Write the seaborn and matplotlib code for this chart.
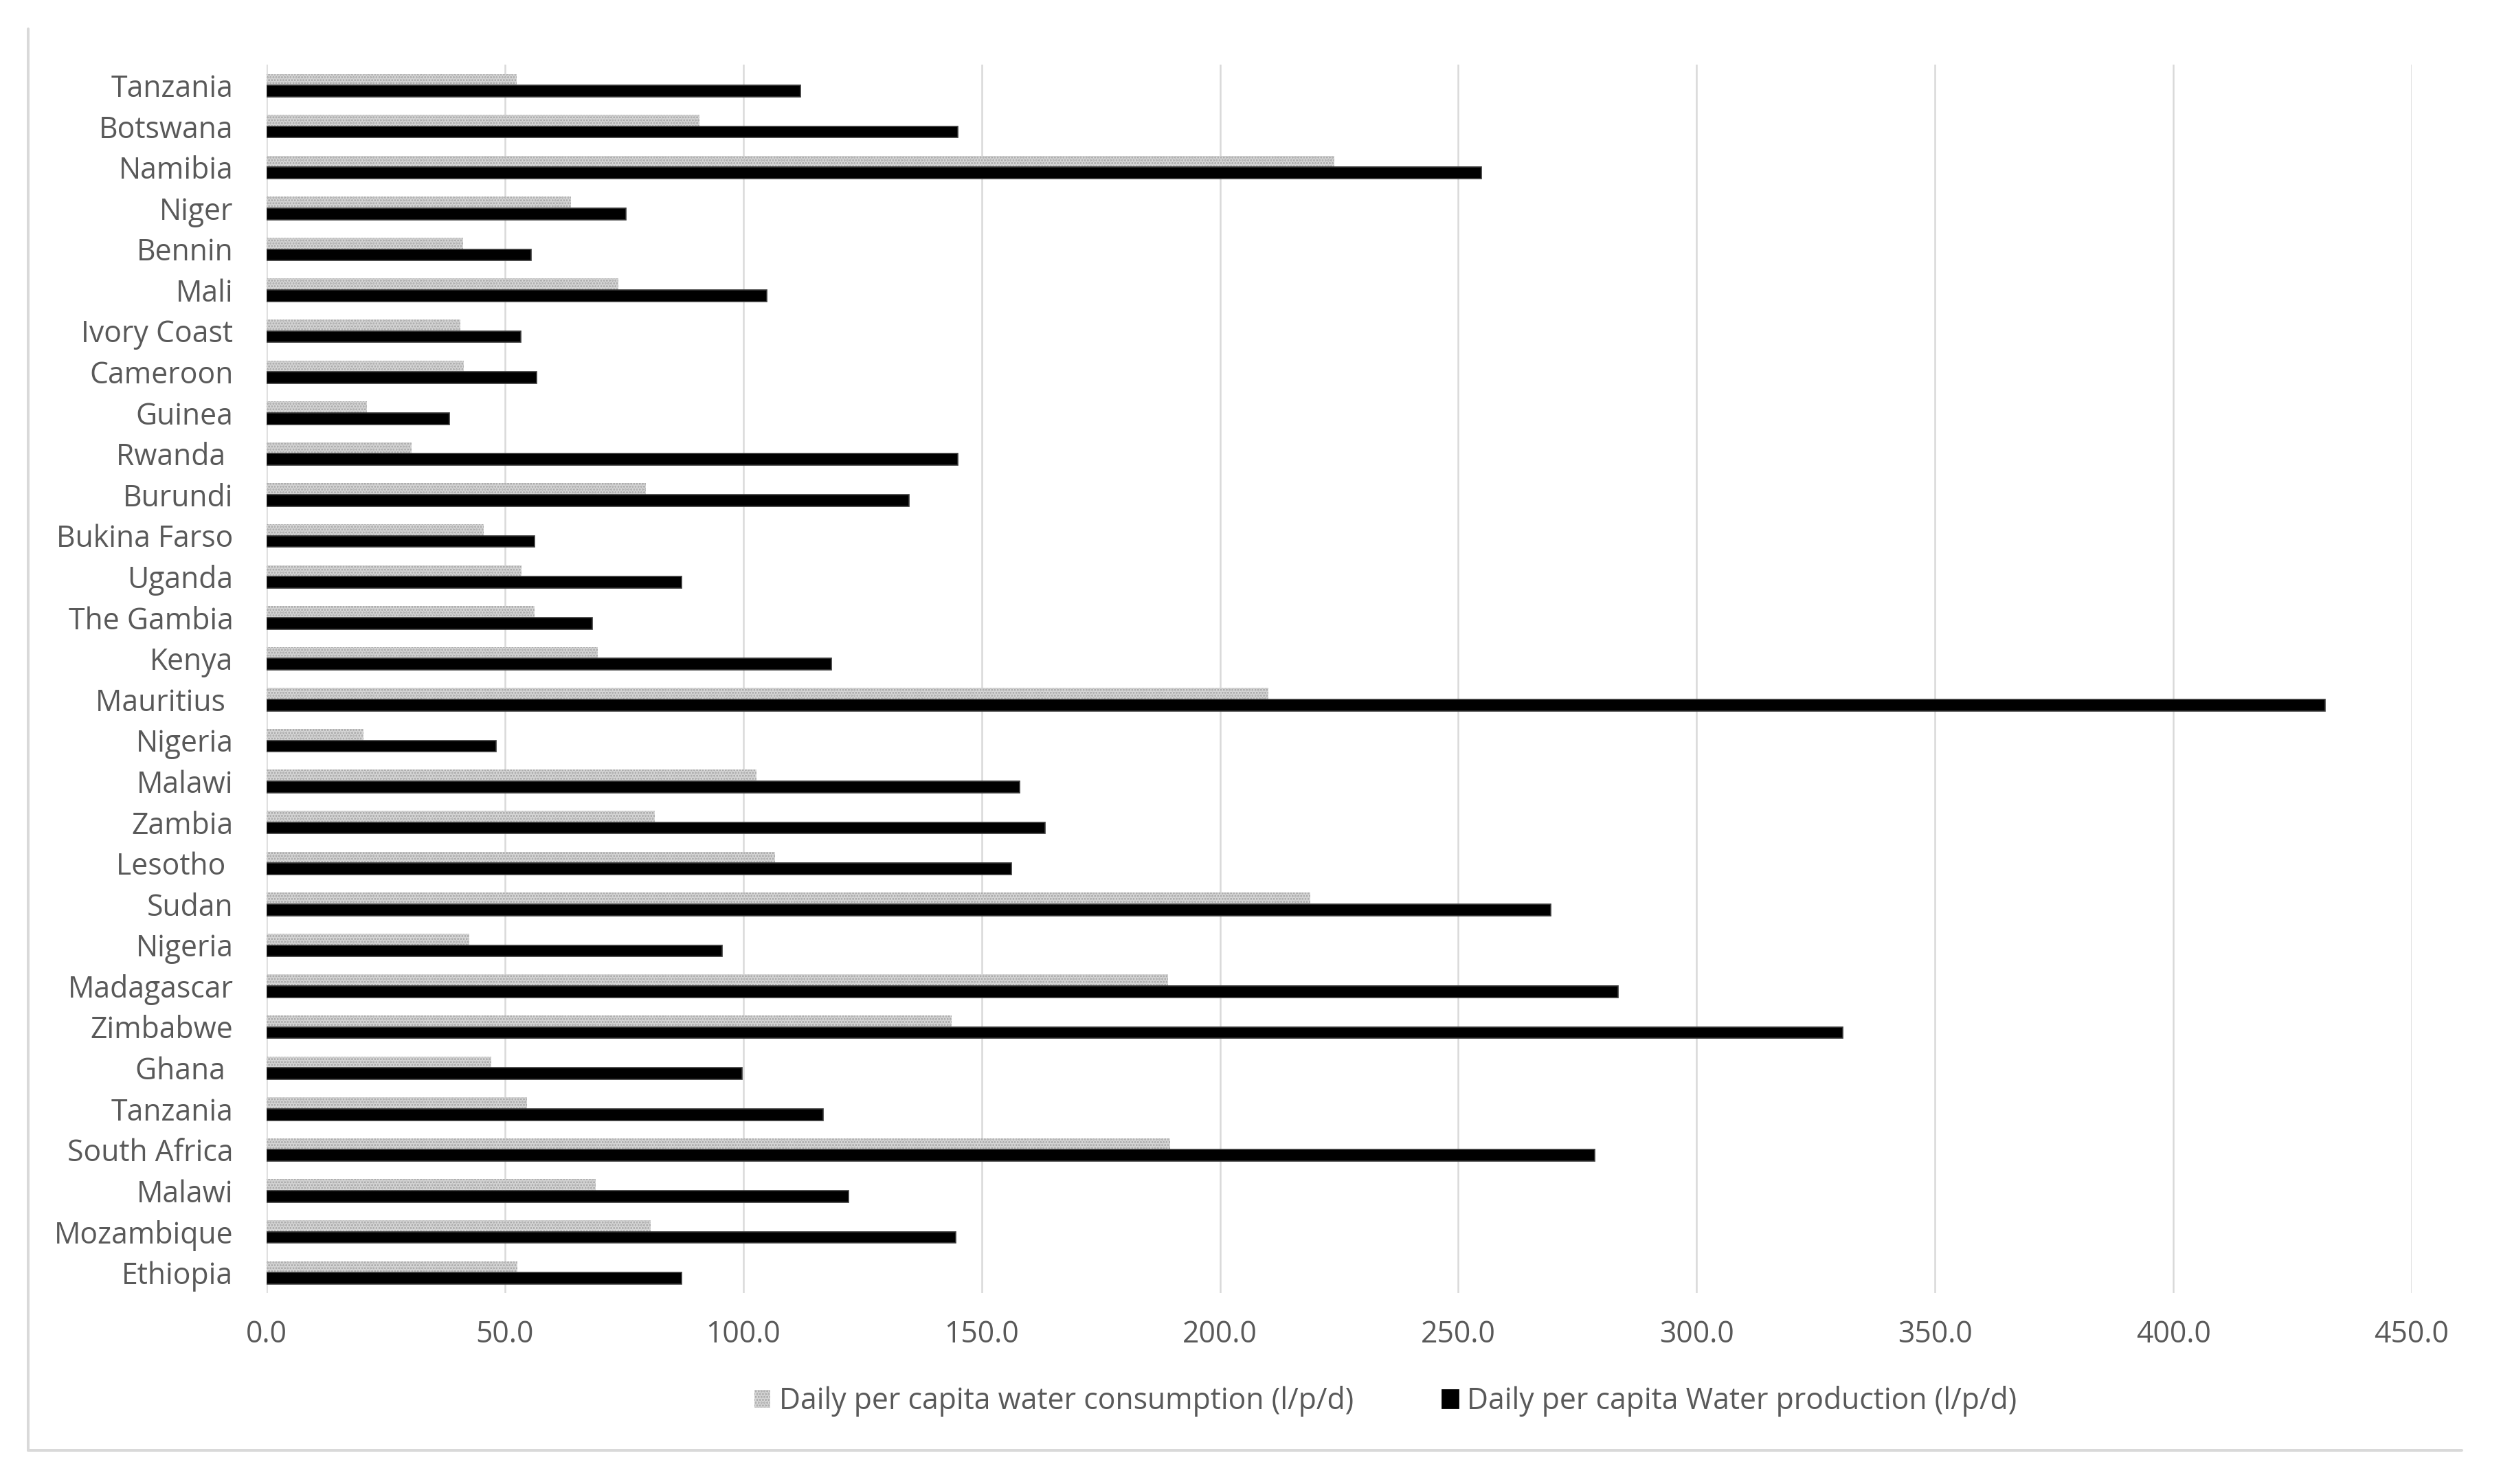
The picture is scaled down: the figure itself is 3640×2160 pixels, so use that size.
import numpy as np
import pandas as pd

import matplotlib.pyplot as plt
from matplotlib.lines import Line2D
from matplotlib.patches import Patch
import seaborn as sns


countries = [
    'Tanzania', 'Botswana', 'Namibia', 'Niger', 'Bennin', 'Mali', 'Ivory Coast',
    'Cameroon', 'Guinea', 'Rwanda ', 'Burundi', 'Bukina Farso', 'Uganda',
    'The Gambia', 'Kenya', 'Mauritius ', 'Nigeria', 'Malawi', 'Zambia',
    'Lesotho ', 'Sudan', 'Nigeria', 'Madagascar', 'Zimbabwe', 'Ghana ',
    'Tanzania', 'South Africa', 'Malawi', 'Mozambique', 'Ethiopia',
]

consumption = [
    52.4, 90.8, 224.0, 63.9, 41.2, 73.8, 40.7,
    41.4, 21.1, 30.4, 79.6, 45.5, 53.5,
    56.2, 69.5, 210.1, 20.3, 102.7, 81.5,
    106.7, 218.9, 42.5, 189.1, 143.7, 47.1,
    54.6, 189.6, 69.0, 80.6, 52.6,
]

production = [
    112.0, 145.0, 254.8, 75.4, 55.5, 104.9, 53.3,
    56.6, 38.3, 145.0, 134.8, 56.2, 87.0,
    68.3, 118.5, 431.9, 48.2, 158.0, 163.3,
    156.2, 269.4, 95.6, 283.5, 330.6, 99.8,
    116.8, 278.6, 122.1, 144.6, 87.0,
]

series_names = [
    'Daily per capita water consumption (l/p/d)',
    'Daily per capita Water production (l/p/d)',
]

x_ticks = [0, 50, 100, 150, 200, 250, 300, 350, 400, 450]

GREY_TEXT = '#595959'
GRID = '#d9d9d9'
FONT_SIZE = 15.4
CONS_FACE = '#a8a8a8'
CONS_DOTS = '#d8d8d8'
CONS_HATCH = '........'

sns.set_style('white')
plt.rcParams['font.family'] = ['Open Sans', 'DejaVu Sans']
plt.rcParams['hatch.linewidth'] = 1.4

df = pd.DataFrame({
    'row': np.arange(len(countries)),
    series_names[0]: consumption,
    series_names[1]: production,
})
long_df = df.melt(id_vars='row', var_name='series', value_name='value')

fig = plt.figure(figsize=(18.2, 10.8), dpi=200)
ax = fig.add_axes([0.1066, 0.1287, 0.8577, 0.8276])

sns.barplot(
    data=long_df,
    y='row',
    x='value',
    hue='series',
    hue_order=series_names,
    orient='h',
    palette={series_names[0]: CONS_FACE, series_names[1]: '#000000'},
    width=0.56,
    saturation=1,
    legend=False,
    ax=ax
)

# dotted grey fill for consumption bars
for bar in ax.containers[0]:
    bar.set_hatch(CONS_HATCH)
    bar.set_edgecolor(CONS_DOTS)
    bar.set_linewidth(0)

for bar in ax.containers[1]:
    bar.set_edgecolor('#3a3a3a')
    bar.set_linewidth(0.6)

ax.set_xlim(0, 450)
ax.set_xticks(x_ticks)
ax.set_xticklabels([f'{t:.1f}' for t in x_ticks])
ax.set_yticks(np.arange(len(countries)))
ax.set_yticklabels(countries)

ax.set_xlabel('')
ax.set_ylabel('')

ax.tick_params(axis='x', length=0, pad=14, labelsize=FONT_SIZE, labelcolor=GREY_TEXT)
ax.tick_params(axis='y', length=0, pad=17.5, labelsize=FONT_SIZE, labelcolor=GREY_TEXT)

ax.grid(True, axis='x', color=GRID, linewidth=0.9)
ax.grid(False, axis='y')
ax.set_axisbelow(True)
sns.despine(ax=ax, left=True, bottom=True)

handles = [
    Patch(facecolor=CONS_FACE, edgecolor=CONS_DOTS, hatch=CONS_HATCH, linewidth=0),
    Patch(facecolor='#000000', edgecolor='#000000'),
]
fig.legend(
    handles,
    series_names,
    loc='center',
    bbox_to_anchor=(0.554, 0.0556),
    ncol=2,
    frameon=False,
    fontsize=FONT_SIZE,
    labelcolor=GREY_TEXT,
    handlelength=0.55,
    handleheight=0.55,
    handletextpad=0.3,
    columnspacing=3.0
)

# chart area border (left and bottom only, as in the source)
fig.add_artist(Line2D([0.01126, 0.01126], [0.9806, 0.0227], color=GRID, linewidth=1.44))
fig.add_artist(Line2D([0.01126, 0.9843], [0.0227, 0.0227], color=GRID, linewidth=1.44))

fig.savefig('out.png', dpi=200, facecolor='white')
plt.close(fig)
